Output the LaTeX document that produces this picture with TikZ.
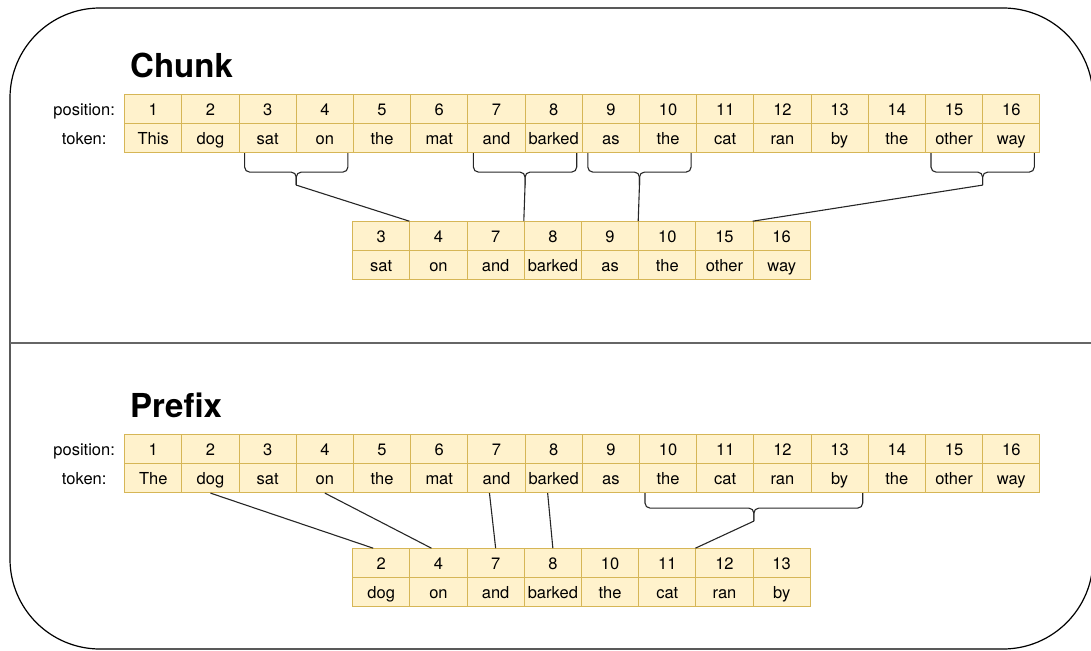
\documentclass[tikz,border=0pt]{standalone}
\usepackage{fontspec}
\setmainfont{TeX Gyre Heros}
\usetikzlibrary{matrix,calc}
\definecolor{tokfill}{HTML}{FFF2CC}
\definecolor{tokline}{HTML}{D6B656}
% brace under two cells, tip named #3, #4 = depth of the bar
\newcommand\tokbrace[4]{%
  \coordinate (#3) at ($(#1.south west)!0.5!(#2.south east)+(0,#4+13)$);
  \draw[bracepath] ([xshift=6pt]#1.south west) |- ($(#3)+(0,-13)$) -- (#3);
  \draw[bracepath] ([xshift=-6pt]#2.south east) |- ($(#3)+(0,-13)$) -- (#3);}

\begin{document}
\begin{tikzpicture}[x=1pt,y=-1pt,
	tokcell/.style={draw=tokline,fill=tokfill,line width=0.9pt,minimum width=57.2pt,minimum height=29pt,
		inner sep=0pt,text height=11.8pt,text depth=0pt,font=\fontsize{16.5}{18}\selectfont},
	tokrow/.style={matrix of nodes,inner sep=0pt,column sep=-0.9pt,row sep=-0.9pt,anchor=north west,nodes={tokcell}},
	lbl/.style={inner sep=0pt,text height=11.8pt,text depth=0pt,font=\fontsize{16.5}{18}\selectfont},
	title/.style={anchor=base west,inner sep=0pt,font=\fontsize{33}{36}\selectfont\bfseries},
	bracepath/.style={draw=black!85,line width=1.1pt,rounded corners=5pt},
	link/.style={draw=black!85,line width=1.1pt}]
	\useasboundingbox (0,0) rectangle (1091,650);
	\draw[line width=1.2pt,rounded corners=90pt] (10,8) rectangle (1093,649);
	\draw[line width=1.4pt,black!60] (10,343) -- (1093,343);

	% chunk
	\node[title] (chunkT) at (130,77.5) {Chunk};
	\matrix (cA) [tokrow] at (124,94)
	{
		1 & 2 & 3 & 4 & 5 & 6 & 7 & 8 & 9 & 10 & 11 & 12 & 13 & 14 & 15 & 16 \\
		This & dog & sat & on & the & mat & and & barked & as & the & cat & ran & by & the & other & way \\
	};
	\node[lbl] (cApos) at ([xshift=-40pt]cA-1-1.west) {position:};
	\node[lbl] (cAtok) at ([xshift=-40pt]cA-2-1.west) {token:};
	\matrix (cB) [tokrow] at (352,221)
	{
		3 & 4 & 7 & 8 & 9 & 10 & 15 & 16 \\
		sat & on & and & barked & as & the & other & way \\
	};
	\tokbrace{cA-2-3}{cA-2-4}{bA}{19}
	\tokbrace{cA-2-7}{cA-2-8}{bB}{19}
	\tokbrace{cA-2-9}{cA-2-10}{bC}{19}
	\tokbrace{cA-2-15}{cA-2-16}{bD}{19}
	\draw[link] (bA) -- (cB-1-2.north west);
	\draw[link] (bB) -- (cB-1-4.north west);
	\draw[link] (bC) -- (cB-1-6.north west);
	\draw[link] (bD) -- (cB-1-8.north west);

	% prefix
	\node[title] (prefixT) at (130,417) {Prefix};
	\matrix (pA) [tokrow] at (124,434)
	{
		1 & 2 & 3 & 4 & 5 & 6 & 7 & 8 & 9 & 10 & 11 & 12 & 13 & 14 & 15 & 16 \\
		The & dog & sat & on & the & mat & and & barked & as & the & cat & ran & by & the & other & way \\
	};
	\node[lbl] (pApos) at ([xshift=-40pt]pA-1-1.west) {position:};
	\node[lbl] (pAtok) at ([xshift=-40pt]pA-2-1.west) {token:};
	\matrix (pB) [tokrow] at (352,548)
	{
		2 & 4 & 7 & 8 & 10 & 11 & 12 & 13 \\
		dog & on & and & barked & the & cat & ran & by \\
	};
	\draw[link] (pA-2-2.south) -- ([xshift=-8pt]pB-1-1.north);
	\draw[link] (pA-2-4.south) -- ([xshift=-7pt]pB-1-2.north);
	\draw[link] ([xshift=-7pt]pA-2-7.south) -- (pB-1-3.north);
	\draw[link] ([xshift=-6pt]pA-2-8.south) -- (pB-1-4.north);
	\tokbrace{pA-2-10}{pA-2-13}{bE}{15}
	\draw[link] (bE) -- (pB-1-7.north west);
\end{tikzpicture}
\end{document}
